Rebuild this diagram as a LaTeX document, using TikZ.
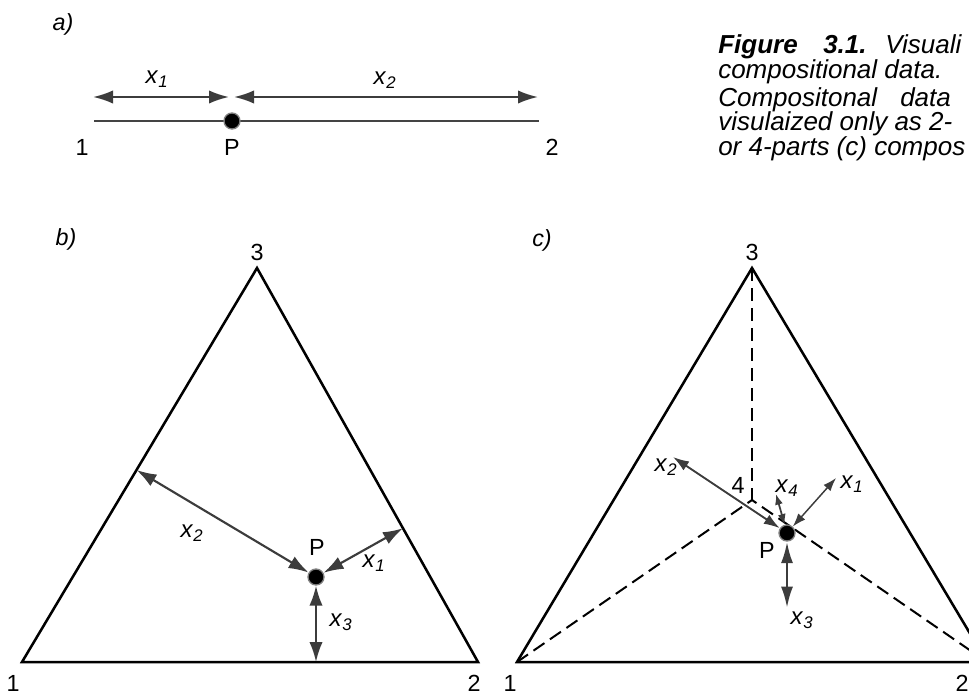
\documentclass[tikz,border=0pt]{standalone}
\usepackage{fontspec}
\setmainfont{Liberation Sans}
\usetikzlibrary{arrows.meta, positioning, calc}
\definecolor{arrowgray}{HTML}{3C3C3C}
\definecolor{linegray}{HTML}{444444}
\newcommand{\xlab}[1]{\textit{x}\textsubscript{\textit{#1}}}

\begin{document}
\begin{tikzpicture}[x=0.75pt, y=-0.75pt]

    % --- Styles ---
    \tikzset{
        simplex/.style={draw=black, line width=1.9pt, line join=miter},
        segment/.style={draw=linegray, line width=1.8pt},
        dist/.style={draw=arrowgray, line width=1.6pt, {Latex[length=15pt,width=10pt]}-{Latex[length=15pt,width=10pt]}},
        hidden/.style={draw=black, line width=1.5pt, dash pattern=on 10pt off 5pt},
        comp/.style={circle, fill=black, draw=gray, line width=1pt, minimum size=12pt, inner sep=0pt},
        vlabel/.style={font=\fontsize{17.5}{20}\selectfont, inner sep=0pt},
        xlabel/.style={font=\fontsize{18}{20}\selectfont, inner sep=0pt},
        panel/.style={font=\fontsize{17.5}{20}\selectfont\itshape, inner sep=0pt},
        caption/.style={font=\fontsize{19.5}{22}\selectfont\itshape, anchor=base west, inner sep=0pt}
    }

    \useasboundingbox (0,0) rectangle (969,697);
    \clip (0,0) rectangle (969,697);

    % --- a) two parts ---
    \node[panel] (lbla) at (63,24) {a)};
    \coordinate (A1) at (94,121);
    \coordinate (A2) at (539,121);
    \draw[segment] (A1) -- (A2);
    \node[comp] (Pa) at (232,121) {};
    \coordinate (a1l) at (93,97);
    \coordinate (a1r) at (229,97);
    \coordinate (a2l) at (234,97);
    \coordinate (a2r) at (538,97);
    \draw[dist] (a1l) -- (a1r);
    \draw[dist] (a2l) -- (a2r);
    \node[xlabel] (xa1) at (157,79) {\xlab{1}};
    \node[xlabel] (xa2) at (385,80) {\xlab{2}};
    \node[vlabel] (na1) at (82,147) {1};
    \node[vlabel] (nPa) at (232,147) {P};
    \node[vlabel] (na2) at (552,147) {2};

    % --- b) three parts ---
    \node[panel] (lblb) at (66,239) {b)};
    \coordinate (B1) at (22,662);
    \coordinate (B2) at (478,662);
    \coordinate (B3) at (257,268);
    \draw[simplex] (B1) -- (B2) -- (B3) -- cycle;
    \node[comp] (Pb) at (316,577) {};
    \draw[dist] (Pb) -- ($(B1)!(Pb)!(B3)$);
    \draw[dist] (Pb) -- ($(B2)!(Pb)!(B3)$);
    \draw[dist] (Pb) -- ($(B1)!(Pb)!(B2)$);
    \node[vlabel] (nb3) at (257,252) {3};
    \node[vlabel] (nb1) at (13,683) {1};
    \node[vlabel] (nb2) at (474,683) {2};
    \node[vlabel] (nPb) at (317,547) {P};
    \node[xlabel] (xb2) at (192,533) {\xlab{2}};
    \node[xlabel] (xb1) at (374,563) {\xlab{1}};
    \node[xlabel] (xb3) at (341,622) {\xlab{3}};

    % --- c) four parts ---
    \node[panel] (lblc) at (542,240) {c)};
    \coordinate (C1) at (517,662);
    \coordinate (C2) at (987,662);
    \coordinate (C3) at (752,268);
    \coordinate (C4) at (752,500);
    \draw[hidden] (C3) -- (C4);
    \draw[hidden] (C1) -- (C4);
    \draw[hidden] (C2) -- (C4);
    \draw[simplex] (C1) -- (C2) -- (C3) -- cycle;
    \node[comp] (Pc) at (787,533) {};
    \coordinate (c1) at (836,478);
    \coordinate (c2) at (673,457);
    \coordinate (c3) at (787,608);
    \coordinate (c4) at (776,494);
    \draw[dist, line width=1.4pt, {Latex[length=12pt,width=8pt]}-{Latex[length=12pt,width=8pt]}] (Pc) -- (c2);
    \draw[dist, line width=1.1pt, {Latex[length=10pt,width=7pt]}-{Latex[length=10pt,width=7pt]}] (Pc) -- (c1);
    \draw[dist, line width=1.3pt, {Latex[length=8pt,width=6pt]}-{Latex[length=8pt,width=6pt]}] (Pc) -- (c4);
    \draw[dist, line width=2pt, {Latex[length=16pt,width=9pt]}-{Latex[length=16pt,width=9pt]}] (Pc) -- (c3);
    \node[vlabel] (nc3) at (752,252) {3};
    \node[vlabel] (nc4) at (738,485) {4};
    \node[vlabel] (nc1) at (510,683) {1};
    \node[vlabel] (nc2) at (962,683) {2};
    \node[vlabel] (nPc) at (767,550) {P};
    \node[xlabel] (xc2) at (666,467) {\xlab{2}};
    \node[xlabel] (xc4) at (787,488) {\xlab{4}};
    \node[xlabel] (xc1) at (852,484) {\xlab{1}};
    \node[xlabel] (xc3) at (802,620) {\xlab{3}};

    % --- Caption ---
    \node[caption] (cap1a) at (718,53) {\textbf{Figure}};
    \node[caption] (cap1b) at (823,53) {\textbf{3.1.}};
    \node[caption] (cap1c) at (885,53) {Visuali};
    \node[caption] (cap2) at (718,78) {compositional data.};
    \node[caption] (cap3a) at (718,106) {Compositonal};
    \node[caption] (cap3b) at (900,106) {data};
    \node[caption] (cap4) at (718,130) {visulaized only as 2-};
    \node[caption] (cap5) at (718,155) {or 4-parts (c) compos};

\end{tikzpicture}
\end{document}
